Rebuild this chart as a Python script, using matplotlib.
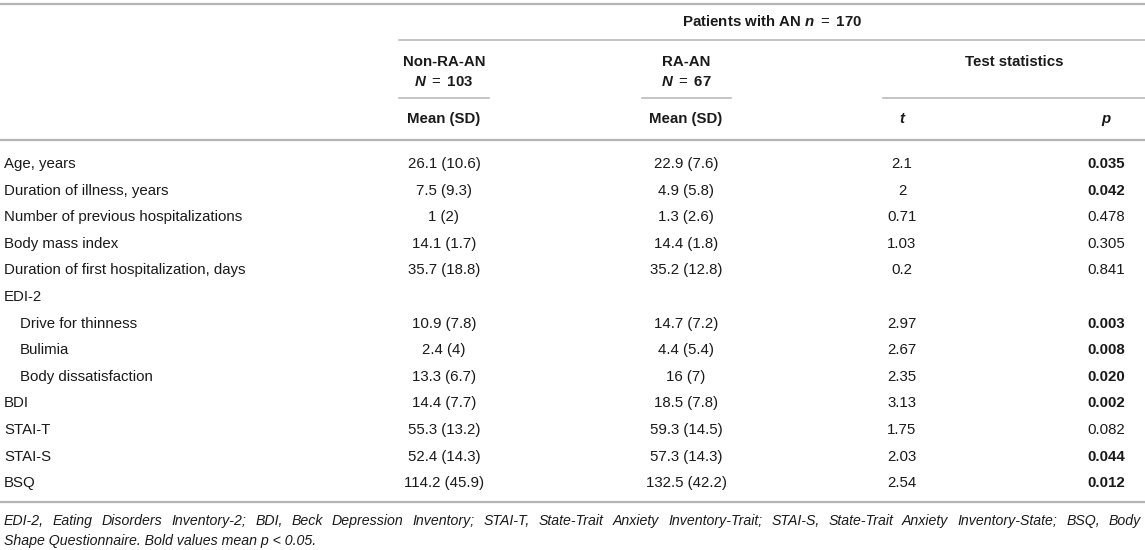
import matplotlib
matplotlib.use("Agg")
import matplotlib.pyplot as plt

plt.rcParams['font.family'] = ['Liberation Sans', 'DejaVu Sans']
plt.rcParams['mathtext.fontset'] = 'custom'
plt.rcParams['mathtext.bfit'] = 'Liberation Sans:bold:italic'
plt.rcParams['mathtext.it'] = 'Liberation Sans:italic'
plt.rcParams['mathtext.rm'] = 'Liberation Sans'

# table data
labels = ["Age, years", "Duration of illness, years", "Number of previous hospitalizations",
          "Body mass index", "Duration of first hospitalization, days", "EDI-2",
          "Drive for thinness", "Bulimia", "Body dissatisfaction", "BDI", "STAI-T",
          "STAI-S", "BSQ"]
indent = [0, 0, 0, 0, 0, 0, 1, 1, 1, 0, 0, 0, 0]
non_ra = ["26.1 (10.6)", "7.5 (9.3)", "1 (2)", "14.1 (1.7)", "35.7 (18.8)", "",
          "10.9 (7.8)", "2.4 (4)", "13.3 (6.7)", "14.4 (7.7)", "55.3 (13.2)",
          "52.4 (14.3)", "114.2 (45.9)"]
ra = ["22.9 (7.6)", "4.9 (5.8)", "1.3 (2.6)", "14.4 (1.8)", "35.2 (12.8)", "",
      "14.7 (7.2)", "4.4 (5.4)", "16 (7)", "18.5 (7.8)", "59.3 (14.5)",
      "57.3 (14.3)", "132.5 (42.2)"]
t_vals = ["2.1", "2", "0.71", "1.03", "0.2", "", "2.97", "2.67", "2.35", "3.13",
          "1.75", "2.03", "2.54"]
p_vals = ["0.035", "0.042", "0.478", "0.305", "0.841", "", "0.003", "0.008", "0.020",
          "0.002", "0.082", "0.044", "0.012"]

footnote1 = ("EDI-2, Eating Disorders Inventory-2; BDI, Beck Depression Inventory; "
             "STAI-T, State-Trait Anxiety Inventory-Trait; STAI-S, State-Trait Anxiety "
             "Inventory-State; BSQ, Body")
footnote2 = "Shape Questionnaire. Bold values mean p < 0.05."

W, H = 1145, 550
fig = plt.figure(figsize=(W / 100, H / 100), dpi=100)
ax = fig.add_axes([0, 0, 1, 1])
ax.set_xlim(0, W)
ax.set_ylim(H, 0)
ax.axis('off')

line_col = '#b4b4b4'
txt_col = '#1a1a1a'
fs = 10.8
ffs = 10.2

# rules
ax.plot([0, W], [4, 4], color=line_col, lw=1.6)
ax.plot([399, W], [40, 40], color=line_col, lw=1.1)
ax.plot([399, 489], [98, 98], color=line_col, lw=1.1)
ax.plot([642, 731], [98, 98], color=line_col, lw=1.1)
ax.plot([883, W], [98, 98], color=line_col, lw=1.1)
ax.plot([0, W], [140, 140], color=line_col, lw=1.6)
ax.plot([0, W], [502, 502], color=line_col, lw=1.6)

col_x = [444, 686, 902, 1106]

# header
hk = dict(ha='center', va='center', fontsize=fs, fontweight='bold', color=txt_col)
ax.text(772, 22, r"Patients with AN $\mathbfit{n}$ $=$ 170", **hk)
ax.text(col_x[0], 62, "Non-RA-AN", **hk)
ax.text(col_x[0], 82, r"$\mathbfit{N}$ $=$ 103", **hk)
ax.text(col_x[1], 62, "RA-AN", **hk)
ax.text(col_x[1], 82, r"$\mathbfit{N}$ $=$ 67", **hk)
ax.text(1014, 62, "Test statistics", **hk)
ax.text(col_x[0], 119, "Mean (SD)", **hk)
ax.text(col_x[1], 119, "Mean (SD)", **hk)
ax.text(col_x[2], 119, "t", fontstyle='italic', **hk)
ax.text(col_x[3], 119, "p", fontstyle='italic', **hk)

# body rows
y0, dy = 164, 26.6
for i, lab in enumerate(labels):
    y = y0 + i * dy
    ax.text(4 + 16 * indent[i], y, lab, ha='left', va='center', fontsize=fs, color=txt_col)
    ax.text(col_x[0], y, non_ra[i], ha='center', va='center', fontsize=fs, color=txt_col)
    ax.text(col_x[1], y, ra[i], ha='center', va='center', fontsize=fs, color=txt_col)
    ax.text(col_x[2], y, t_vals[i], ha='center', va='center', fontsize=fs, color=txt_col)
    if p_vals[i]:
        bold = float(p_vals[i]) < 0.05
        ax.text(col_x[3], y, p_vals[i], ha='center', va='center', fontsize=fs,
                color=txt_col, fontweight='bold' if bold else 'normal')

# footnote, first line justified
fig.canvas.draw()
renderer = fig.canvas.get_renderer()
words = footnote1.split(" ")
objs = []
total = 0
for w in words:
    t = ax.text(0, 521, w, ha='left', va='center', fontsize=ffs, fontstyle='italic',
                color=txt_col)
    wd = t.get_window_extent(renderer).width
    objs.append((t, wd))
    total += wd
left, right = 4, 1141
gap = (right - left - total) / (len(words) - 1)
x = left
for t, wd in objs:
    t.set_x(x)
    x += wd + gap
ax.text(4, 541, footnote2, ha='left', va='center', fontsize=ffs, fontstyle='italic',
        color=txt_col)

fig.savefig("out.png", dpi=100)
